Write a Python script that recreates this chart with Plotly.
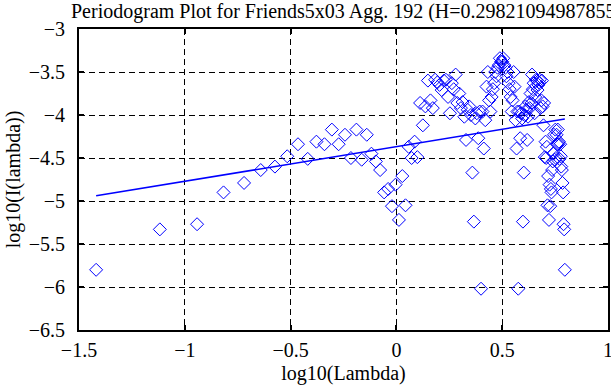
import plotly.graph_objects as go

# log10(lambda) values of the periodogram frequencies
log_lambda = [
    -1.419, -1.118, -0.942, -0.817, -0.720, -0.641, -0.574, -0.516, -0.465, -0.419,
    -0.378, -0.340, -0.305, -0.273, -0.243, -0.215, -0.189, -0.164, -0.140, -0.118,
    -0.097, -0.077, -0.058, -0.039, -0.021, -0.004, 0.012, 0.028, 0.043, 0.058,
    0.072, 0.086, 0.099, 0.112, 0.125, 0.137, 0.149, 0.161, 0.172, 0.183,
    0.194, 0.204, 0.214, 0.224, 0.234, 0.244, 0.253, 0.262, 0.271, 0.280,
    0.288, 0.297, 0.305, 0.313, 0.321, 0.329, 0.337, 0.344, 0.352, 0.359,
    0.366, 0.373, 0.380, 0.387, 0.394, 0.400, 0.407, 0.413, 0.420, 0.426,
    0.432, 0.438, 0.444, 0.450, 0.456, 0.462, 0.467, 0.473, 0.478, 0.484,
    0.489, 0.495, 0.500, 0.505, 0.510, 0.515, 0.520, 0.525, 0.530, 0.535,
    0.540, 0.545, 0.549, 0.554, 0.558, 0.563, 0.568, 0.572, 0.576, 0.581,
    0.585, 0.589, 0.594, 0.598, 0.602, 0.606, 0.610, 0.614, 0.618, 0.622,
    0.626, 0.630, 0.634, 0.638, 0.641, 0.645, 0.649, 0.653, 0.656, 0.660,
    0.664, 0.667, 0.671, 0.674, 0.678, 0.681, 0.685, 0.688, 0.691, 0.695,
    0.698, 0.701, 0.705, 0.708, 0.711, 0.714, 0.717, 0.721, 0.724, 0.727,
    0.730, 0.733, 0.736, 0.739, 0.742, 0.745, 0.748, 0.751, 0.754, 0.757,
    0.760, 0.763, 0.765, 0.768, 0.771, 0.774, 0.777, 0.779, 0.782, 0.785,
    0.788, 0.790, 0.793, 0.796,
]

# log10(I(lambda)) values
log_periodogram = [
    -5.80, -5.33, -5.27, -4.90, -4.79, -4.64, -4.60, -4.48, -4.34, -4.51,
    -4.31, -4.34, -4.17, -4.34, -4.23, -4.50, -4.17, -4.52, -4.23, -4.45,
    -4.54, -4.64, -4.90, -4.86, -5.06, -4.81, -5.22, -4.71, -5.05, -4.37,
    -4.50, -4.31, -4.49, -3.86, -4.12, -3.90, -3.60, -3.83, -3.92, -3.59,
    -3.62, -3.65, -3.71, -3.60, -3.59, -3.79, -3.98, -3.63, -3.70, -3.53,
    -3.86, -3.75, -3.92, -3.85, -4.02, -4.29, -3.94, -3.90, -4.00, -4.67,
    -5.24, -4.04, -3.98, -4.27, -3.96, -6.02, -3.96, -4.39, -4.06, -3.67,
    -3.50, -3.83, -3.96, -3.79, -3.70, -3.63, -3.50, -3.55, -3.45, -3.42,
    -3.34, -3.38, -3.38, -3.34, -3.42, -3.45, -3.55, -3.50, -3.63, -3.70,
    -3.79, -3.96, -3.83, -3.50, -3.67, -4.06, -4.39, -3.96, -6.02, -3.96,
    -4.27, -3.98, -4.04, -5.24, -4.67, -4.00, -3.90, -3.94, -4.29, -4.02,
    -3.85, -3.92, -3.75, -3.86, -3.53, -3.70, -3.63, -3.98, -3.79, -3.59,
    -3.60, -3.71, -3.65, -3.62, -3.59, -3.92, -3.83, -3.60, -3.90, -4.12,
    -3.86, -4.49, -4.31, -4.50, -4.37, -5.05, -4.71, -5.22, -4.81, -5.06,
    -4.86, -4.90, -4.64, -4.54, -4.45, -4.23, -4.52, -4.17, -4.50, -4.23,
    -4.34, -4.17, -4.34, -4.31, -4.51, -4.34, -4.48, -4.60, -4.64, -4.79,
    -4.90, -5.27, -5.33, -5.80,
]

# least-squares fit line end points
fit_x = [-1.419, 0.796]
fit_y = [-4.94, -4.046]

title_text = "Periodogram Plot for Friends5x03 Agg. 192 (H=0.298210949878553)"
x_label = "log10(Lambda)"
y_label = "log10(I(lambda))"

BLUE = "#0000ff"
FONT = "Liberation Serif, Times New Roman, serif"
FS = 20

fig = go.Figure()
fig.add_trace(go.Scatter(
    x=log_lambda, y=log_periodogram, mode="markers",
    marker=dict(symbol="diamond-open", size=10, color=BLUE, line=dict(width=1, color=BLUE)),
    showlegend=False, hoverinfo="skip",
))
fig.add_trace(go.Scatter(
    x=fit_x, y=fit_y, mode="lines",
    line=dict(color=BLUE, width=1.5),
    showlegend=False, hoverinfo="skip",
))

axis_common = dict(
    showgrid=True, gridcolor="black", gridwidth=1, griddash="6px,4px",
    showline=True, linecolor="black", linewidth=2, mirror="ticks",
    ticks="inside", ticklen=5, tickwidth=1.5, tickcolor="black",
    zeroline=False, automargin=False, ticklabeloverflow="allow",
    tickfont=dict(family=FONT, size=FS, color="black"),
)

fig.update_layout(
    width=611, height=385,
    margin=dict(l=79, r=3, t=29, b=55),
    paper_bgcolor="white", plot_bgcolor="white",
    font=dict(family=FONT, size=FS, color="black"),
    xaxis=dict(range=[-1.5, 1], tick0=-1.5, dtick=0.5, ticklabelstandoff=1,
               title=dict(text=x_label, font=dict(family=FONT, size=FS), standoff=6),
               **axis_common),
    yaxis=dict(range=[-6.5, -3], tick0=-6.5, dtick=0.5, ticklabelstandoff=8,
               title=dict(text=y_label, font=dict(family=FONT, size=FS), standoff=3),
               **axis_common),
    annotations=[dict(
        text=title_text, xref="paper", yref="paper",
        x=(69 - 79) / 530, y=1 + (29 - 11) / 301,
        xanchor="left", yanchor="middle", showarrow=False,
        font=dict(family=FONT, size=FS, color="black"),
    )],
)

fig.write_html(
    "out.html",
    config={"displayModeBar": False},
    post_script="document.body.style.margin='0';document.body.style.overflow='hidden';",
)
